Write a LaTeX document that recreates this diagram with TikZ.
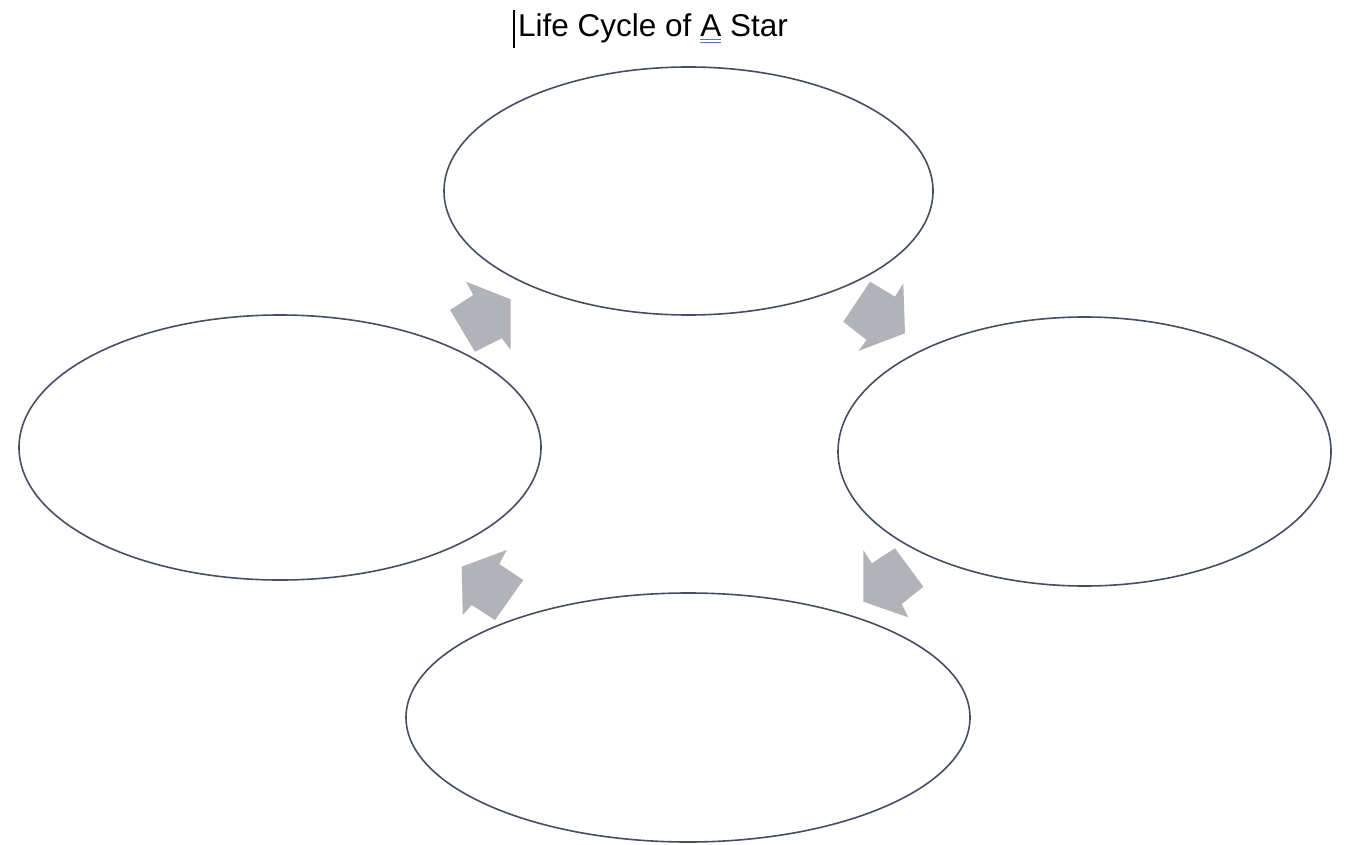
\documentclass[tikz,border=0pt]{standalone}
\usepackage{fontspec}
\setmainfont{Liberation Sans}
\usetikzlibrary{shapes.geometric}
\definecolor{ringcol}{HTML}{474D63}
\definecolor{arrowcol}{HTML}{B1B3B9}
\definecolor{ulblue}{HTML}{4A78D8}
\newcommand\mydblul[1]{\setbox0\hbox{#1}\rlap{\color{ulblue}\rule[-3pt]{\wd0}{1.1pt}}\rlap{\color{ulblue}\rule[-6pt]{\wd0}{1.1pt}}\box0\relax}
\tikzset{
  stage/.style={ellipse, draw=ringcol, line width=1.6pt, inner sep=0pt, fill=white},
  blockarrow/.style={fill=arrowcol, draw=none},
}
\begin{document}
\begin{tikzpicture}[x=1pt,y=-1pt]
\useasboundingbox[fill=white] (0,0) rectangle (1348,845);
% title
\node[anchor=base west, inner sep=0pt, font=\fontsize{31.5}{37}\selectfont] (title) at (518,37) {Life Cycle of \mydblul{A} Star};
\coordinate (curtop) at (514,10);
\coordinate (curbot) at (514,48);
\draw[line width=1.5pt] (curtop) -- (curbot);
% stages
\node[stage, minimum width=489pt, minimum height=248pt] (top) at (688.5,191) {};
\node[stage, minimum width=522pt, minimum height=265pt] (left) at (280,447.5) {};
\node[stage, minimum width=493pt, minimum height=269pt] (right) at (1084.5,451.5) {};
\node[stage, minimum width=564pt, minimum height=249pt] (bottom) at (688,717.5) {};
% arrows
\fill[blockarrow] (466,281.7) -- (510.7,299.3) -- (510.7,350) -- (501.7,338.3) -- (475,351.7) -- (450,310) -- (473.3,295) -- cycle;
\fill[blockarrow] (870,281.7) -- (895,296.7) -- (903.3,283.3) -- (905,333.3) -- (858.3,351) -- (866.7,340) -- (843.3,321.7) -- cycle;
\fill[blockarrow] (461.7,566.7) -- (506.7,550) -- (499.3,564) -- (523.3,580) -- (495,620) -- (471.7,605) -- (462.7,615) -- cycle;
\fill[blockarrow] (863.3,550) -- (871.7,563.3) -- (895,548.3) -- (923.3,586.7) -- (901.7,604) -- (908.3,617.3) -- (863.3,601.7) -- cycle;
\end{tikzpicture}
\end{document}
